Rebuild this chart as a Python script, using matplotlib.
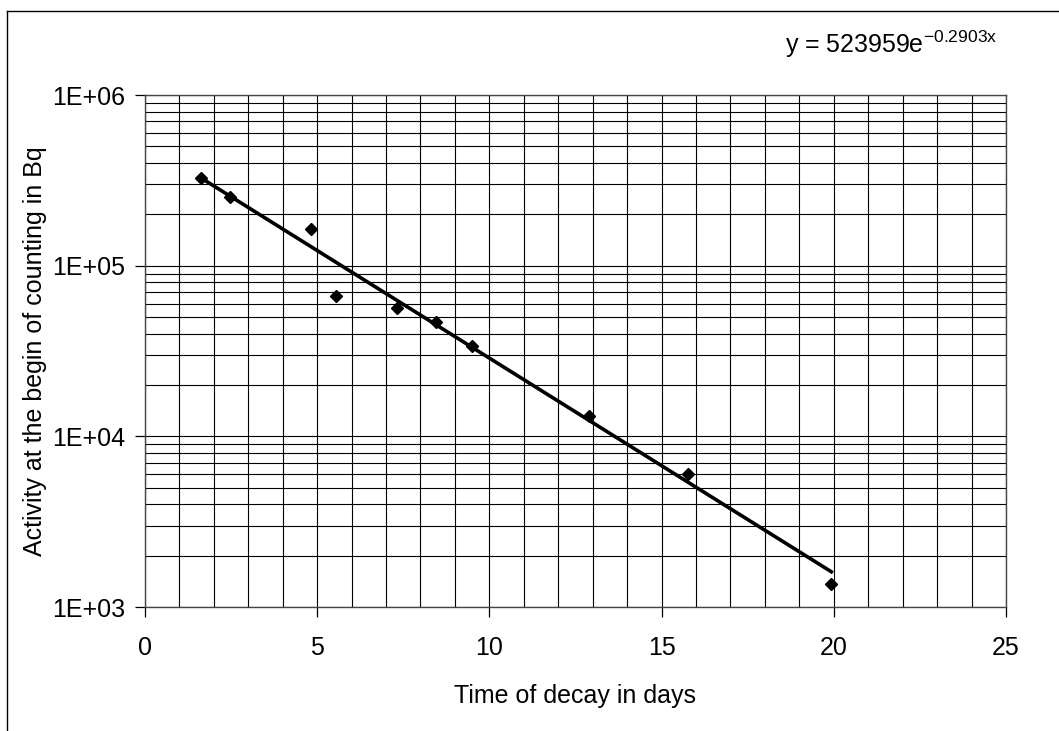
import numpy as np
import matplotlib.pyplot as plt
from matplotlib.ticker import MultipleLocator, LogLocator, FuncFormatter, NullFormatter
from matplotlib.lines import Line2D

plt.rcParams['font.family'] = ['Liberation Sans', 'DejaVu Sans']
plt.rcParams['mathtext.fontset'] = 'custom'
plt.rcParams['mathtext.rm'] = 'Liberation Sans'
plt.rcParams['mathtext.it'] = 'Liberation Sans'

# measured activity vs. decay time
days = [1.64, 2.47, 4.83, 5.54, 7.33, 8.46, 9.49, 12.89, 15.76, 19.93]
activity = [3.28e5, 2.51e5, 1.63e5, 6.67e4, 5.64e4, 4.70e4, 3.38e4, 1.32e4, 6.05e3, 1.36e3]

# exponential fit y = A * exp(k x)
A, k = 523959, -0.2903

fig = plt.figure(figsize=(10.59, 7.31), dpi=100)
ax = fig.add_axes([0.1369, 0.1696, 0.8130, 0.7004])

t_fit = np.linspace(min(days), max(days), 200)
ax.plot(t_fit, A * np.exp(k * t_fit), color='black', lw=2.6, zorder=3)
ax.plot(days, activity, 'D', color='black', markersize=6.5, zorder=4)

ax.set_yscale('log')
ax.set_xlim(0, 25)
ax.set_ylim(1e3, 1e6)

ax.xaxis.set_major_locator(MultipleLocator(5))
ax.xaxis.set_minor_locator(MultipleLocator(1))
ax.yaxis.set_major_locator(LogLocator(base=10))
ax.yaxis.set_minor_locator(LogLocator(base=10, subs=np.arange(2, 10)))
ax.yaxis.set_major_formatter(FuncFormatter(lambda v, p: '1E+%02d' % round(np.log10(v))))
ax.yaxis.set_minor_formatter(NullFormatter())

ax.grid(True, which='both', color='black', lw=0.8)
ax.tick_params(which='major', direction='out', length=7, width=0.9, labelsize=18)
ax.tick_params(axis='y', which='major', pad=7)
ax.tick_params(axis='x', which='major', pad=14)
ax.tick_params(which='minor', length=0)
for s in ax.spines.values():
    s.set_color('#444444')
    s.set_linewidth(1.0)

ax.set_xlabel('Time of decay in days', fontsize=18, labelpad=17)
ax.set_ylabel('Activity at the begin of counting in Bq', fontsize=18, labelpad=4)

fig.text(0.741, 1 - 53 / 731, r'y = 523959e$^{-0.2903x}$', fontsize=18, ha='left', va='baseline')

# chart area border (left and top edges)
fig.add_artist(Line2D([7 / 1059, 7 / 1059], [0, 1 - 11 / 731], color='black', lw=1.0,
                      transform=fig.transFigure))
fig.add_artist(Line2D([7 / 1059, 1], [1 - 11 / 731, 1 - 11 / 731], color='black', lw=1.0,
                      transform=fig.transFigure))

fig.savefig('out.png', dpi=100)
